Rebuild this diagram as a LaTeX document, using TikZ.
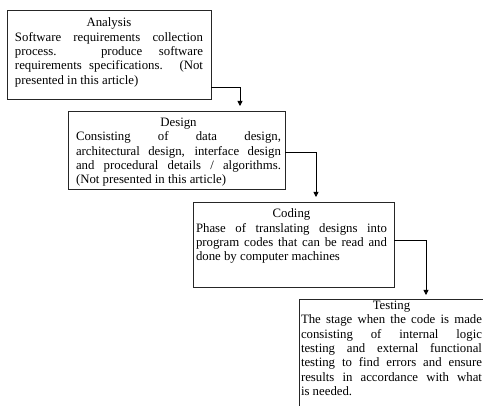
\documentclass[tikz,border=0pt]{standalone}
\usepackage{fontspec}
\setmainfont{Liberation Serif}
\usetikzlibrary{arrows.meta}
\setlength{\parindent}{0pt}
\newcommand{\boxtext}[3]{\begin{minipage}{#1}\fontsize{12.8}{14.4}\selectfont\setlength{\parindent}{0pt}\centerline{#2}#3\end{minipage}}
\begin{document}
\begin{tikzpicture}[x=1pt,y=-1pt,
  box/.style={draw=black!85, line width=0.8pt, inner sep=0pt, outer sep=0pt, anchor=north west},
  txt/.style={inner sep=0pt, outer sep=0pt, anchor=north west},
  conn/.style={draw=black, line width=0.8pt, -{Triangle[length=5pt,width=5pt]}}]
\useasboundingbox (0,0) rectangle (483,406);
\clip (0,0) rectangle (483,406);
\fill[white] (0,0) rectangle (483,406);
% boxes
\node[box, minimum width=204pt, minimum height=89pt] (b1) at (7,10) {};
\node[box, minimum width=217pt, minimum height=78pt] (b2) at (68,111) {};
\node[box, minimum width=201pt, minimum height=85pt] (b3) at (193,202) {};
\node[box, minimum width=220pt, minimum height=130pt] (b4) at (299,299) {};
% texts
\node[txt] (t1) at (15,17.8) {\boxtext{188pt}{Analysis}{Software requirements collection\linebreak process. produce software\linebreak requirements specifications. (Not\linebreak presented in this article)}};
\node[txt] (t2) at (76,117.8) {\boxtext{205pt}{Design}{Consisting of data design,\linebreak architectural design, interface design\linebreak and procedural details / algorithms.\linebreak (Not presented in this article)}};
\node[txt] (t3) at (196,208.8) {\boxtext{191pt}{Coding}{Phase of translating designs into\linebreak program codes that can be read and\linebreak done by computer machines}};
\node[txt] (t4) at (301,300.8) {\boxtext{181pt}{Testing}{The stage when the code is made\linebreak consisting of internal logic\linebreak testing and external functional\linebreak testing to find errors and ensure\linebreak results in accordance with what\linebreak is needed.}};
% connector corners
\coordinate (k1) at (240,87);
\coordinate (k2) at (316,152);
\coordinate (k3) at (426,240);
\draw[conn] (b1.east |- k1) -| ([yshift=5pt]b2.north -| k1);
\draw[conn] (b2.east |- k2) -| ([yshift=5pt]b3.north -| k2);
\draw[conn] (b3.east |- k3) -| ([yshift=4pt]b4.north -| k3);
\end{tikzpicture}
\end{document}
